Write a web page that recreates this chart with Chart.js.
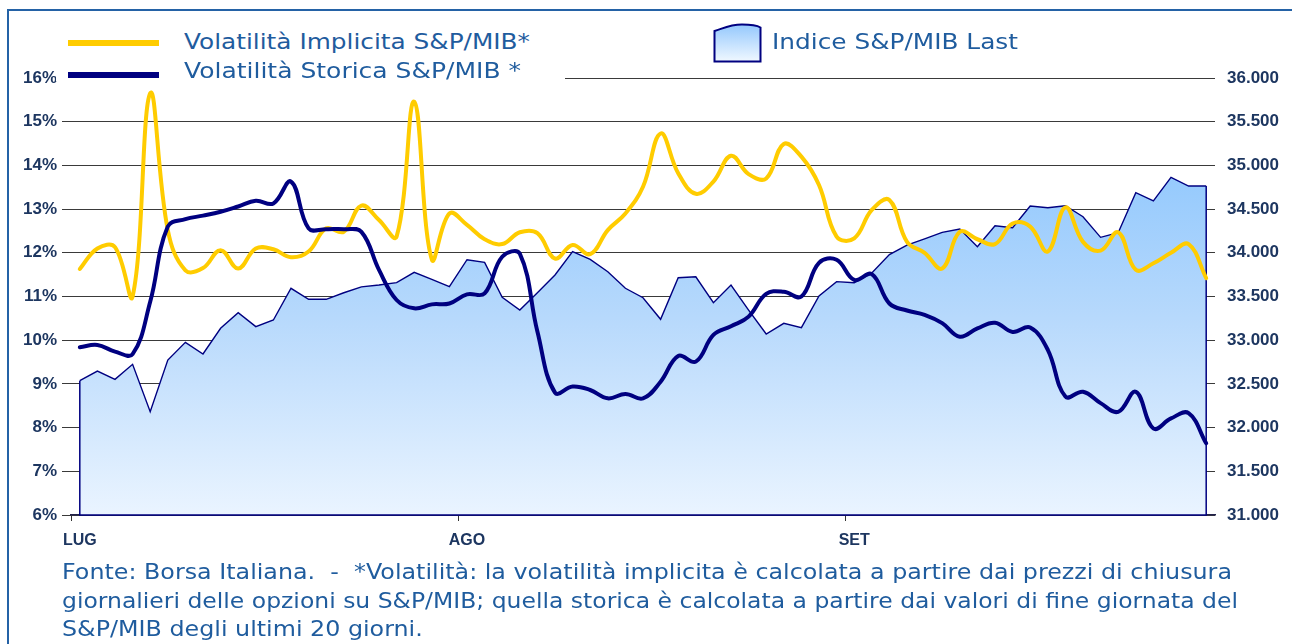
<!DOCTYPE html>
<html>
<head>
<meta charset="utf-8">
<script src="https://cdn.jsdelivr.net/npm/chart.js@4.4.0/dist/chart.umd.min.js"></script>
<style>
html,body{margin:0;padding:0;background:#fff;}
#wrap{position:relative;width:1292px;height:644px;overflow:hidden;background:#fff;}
#frame{position:absolute;left:7px;top:9px;width:1400px;height:800px;border-left:2px solid #2462A6;border-top:2px solid #2462A6;}
#chart{position:absolute;left:0;top:0;}
.txt{position:absolute;white-space:nowrap;color:#1F5C9E;font-family:'DejaVu Sans',sans-serif;line-height:1;transform-origin:0 50%;}
.leg{font-size:22px;}
.foot{font-size:22px;}
#legbox{position:absolute;left:56px;top:22px;width:509px;height:59px;background:#fff;}
.sw{position:absolute;height:6px;}
</style>
</head>
<body>
<div id="wrap">
  <canvas id="chart" width="1292" height="644"></canvas>
  <div id="frame"></div>
  <div id="legbox"></div>
  <div class="sw" style="left:68px;top:40px;width:91px;background:#FFCC00;"></div>
  <div class="sw" style="left:68px;top:72px;width:91px;background:#000080;"></div>
  <div class="txt leg" data-w="346" style="left:184px;top:31px;">Volatilità Implicita S&amp;P/MIB*</div>
  <div class="txt leg" data-w="337" style="left:184px;top:60px;">Volatilità Storica S&amp;P/MIB *</div>
  <svg style="position:absolute;left:712px;top:22px;" width="52" height="42" viewBox="0 0 52 42">
    <defs><linearGradient id="lg" x1="0" y1="0" x2="0" y2="1"><stop offset="0" stop-color="#94C8FD"/><stop offset="1" stop-color="#F0F8FF"/></linearGradient></defs>
    <path d="M2.5 9 C12 6 18 2.5 30 2.5 C40 2.5 46 4 48.5 5.5 L48.5 39.5 L2.5 39.5 Z" fill="url(#lg)" stroke="#000080" stroke-width="2"/>
  </svg>
  <div class="txt leg" data-w="246" style="left:772px;top:31px;">Indice S&amp;P/MIB Last</div>
  <div class="txt foot" id="foot1" data-w="1170" style="left:62px;top:561px;">Fonte: Borsa Italiana.&nbsp; -&nbsp; *Volatilità: la volatilità implicita è calcolata a partire dai prezzi di chiusura</div>
  <div class="txt foot" data-w="1176" style="left:62px;top:590px;">giornalieri delle opzioni su S&amp;P/MIB; quella storica è calcolata a partire dai valori di fine giornata del</div>
  <div class="txt foot" id="foot3" style="left:62px;top:618px;">S&amp;P/MIB degli ultimi 20 giorni.</div>
</div>
<script>
// ---- data ----
const months = ['LUG', 'AGO', 'SET'];
const tradingDays = [22, 22, 21];
const categories = [];
months.forEach((m, k) => { for (let d = 1; d <= tradingDays[k]; d++) categories.push(m + ' ' + d); });

const volImplicita = [
  11.63, 12.10, 12.13, 11.00, 15.65, 12.52, 11.60, 11.65, 12.06, 11.64,
  12.10, 12.08, 11.90, 12.03, 12.56, 12.48, 13.08, 12.75, 12.37, 15.46,
  11.85, 12.90, 12.64, 12.31, 12.20, 12.47, 12.45, 11.87, 12.18, 11.97,
  12.52, 12.90, 13.51, 14.73, 13.82, 13.35, 13.63, 14.22, 13.80, 13.70,
  14.49, 14.20, 13.55, 12.37, 12.33, 12.98, 13.21, 12.25, 12.00, 11.64,
  12.48, 12.31, 12.20, 12.67, 12.60, 12.03, 13.04, 12.25, 12.05, 12.47,
  11.61, 11.76, 12.00, 12.20, 11.42
];
const volStorica = [
  9.84, 9.89, 9.74, 9.68, 10.88, 12.60, 12.77, 12.85, 12.94, 13.06,
  13.19, 13.13, 13.63, 12.56, 12.54, 12.54, 12.48, 11.61, 10.92, 10.73,
  10.82, 10.84, 11.05, 11.07, 11.91, 11.98, 10.20, 8.80, 8.94, 8.86,
  8.67, 8.77, 8.67, 9.05, 9.64, 9.51, 10.12, 10.32, 10.54, 11.06,
  11.11, 11.00, 11.77, 11.84, 11.38, 11.51, 10.84, 10.68, 10.58, 10.39,
  10.08, 10.27, 10.40, 10.19, 10.29, 9.78, 8.71, 8.82, 8.56, 8.36,
  8.82, 7.98, 8.21, 8.33, 7.64
];
const indiceSPMIB = [
  32537, 32647, 32552, 32724, 32182, 32773, 32976, 32842, 33136, 33315,
  33155, 33231, 33594, 33468, 33468, 33543, 33610, 33631, 33658, 33777,
  33697, 33612, 33921, 33891, 33491, 33345, 33543, 33746, 34013, 33925,
  33784, 33594, 33486, 33239, 33715, 33726, 33429, 33631, 33345, 33071,
  33193, 33143, 33506, 33670, 33658, 33770, 33980, 34089, 34160, 34234,
  34272, 34070, 34310, 34287, 34535, 34516, 34539, 34413, 34177, 34230,
  34688, 34593, 34864, 34764, 34764
];
const pctRange = [6, 16];
const indexRange = [31000, 36000];

// ---- chart ----
const tickFont = { family: "'Liberation Sans', Arial, sans-serif", size: 17, weight: 'bold' };
const tickColor = '#1D3660';
const isMonthStart = i => categories[i] !== undefined && categories[i].endsWith(' 1');

const areaEdges = {
  id: 'areaEdges',
  afterDatasetDraw(chart, args) {
    if (args.index !== 0) return;
    const pts = args.meta.data;
    const ctx = chart.ctx, b = chart.chartArea.bottom;
    const f = pts[0], l = pts[pts.length - 1];
    ctx.save();
    ctx.strokeStyle = '#000080';
    ctx.lineWidth = 1.5;
    ctx.beginPath();
    ctx.moveTo(f.x, f.y); ctx.lineTo(f.x, b); ctx.lineTo(l.x, b); ctx.lineTo(l.x, l.y);
    ctx.stroke();
    ctx.restore();
  }
};

new Chart(document.getElementById('chart'), {
  type: 'line',
  data: {
    labels: categories,
    datasets: [
      {
        label: 'Indice S&P/MIB Last',
        data: indiceSPMIB,
        yAxisID: 'y1',
        fill: 'start',
        borderColor: '#000080',
        borderWidth: 1.4,
        pointRadius: 0,
        tension: 0,
        order: 3,
        backgroundColor: (c) => {
          const ca = c.chart.chartArea;
          if (!ca) return '#C0DDFC';
          const g = c.chart.ctx.createLinearGradient(0, ca.top, 0, ca.bottom);
          g.addColorStop(0, '#86BFFC');
          g.addColorStop(0.25, '#98CBFD');
          g.addColorStop(0.55, '#B7D9FC');
          g.addColorStop(1, '#EAF4FF');
          return g;
        }
      },
      {
        label: 'Volatilità Implicita S&P/MIB*',
        data: volImplicita,
        yAxisID: 'y',
        borderColor: '#FFCC00',
        borderWidth: 4,
        pointRadius: 0,
        tension: 0.4,
        fill: false,
        order: 2,
        borderCapStyle: 'round',
        borderJoinStyle: 'round'
      },
      {
        label: 'Volatilità Storica S&P/MIB *',
        data: volStorica,
        yAxisID: 'y',
        borderColor: '#000080',
        borderWidth: 4,
        pointRadius: 0,
        tension: 0.4,
        fill: false,
        order: 1,
        borderCapStyle: 'round',
        borderJoinStyle: 'round'
      }
    ]
  },
  options: {
    responsive: false,
    devicePixelRatio: 1,
    animation: false,
    layout: { padding: { left: 0, right: 0, top: 78, bottom: 84 } },
    plugins: { legend: { display: false }, tooltip: { enabled: false } },
    scales: {
      x: {
        type: 'category',
        offset: true,
        afterFit: s => { s.height = 45; },
        grid: {
          offset: true,
          drawOnChartArea: false,
          drawTicks: true,
          tickLength: 6,
          color: c => isMonthStart(c.index) ? '#333' : 'rgba(0,0,0,0)'
        },
        border: { display: true, color: '#22224A', width: 1.5 },
        ticks: {
          autoSkip: false, maxRotation: 0, minRotation: 0, padding: 10,
          font: { ...tickFont, size: 16 }, color: tickColor,
          callback: (v, i) => isMonthStart(i) ? categories[i].split(' ')[0] : ''
        }
      },
      y: {
        position: 'left',
        min: pctRange[0], max: pctRange[1],
        afterFit: s => { s.width = 71; },
        grid: { color: '#3A3A3A', lineWidth: 1, tickLength: 9, drawTicks: true },
        border: { display: false },
        ticks: { stepSize: 1, padding: 5, font: tickFont, color: tickColor, callback: v => v + '%' }
      },
      y1: {
        position: 'right',
        min: indexRange[0], max: indexRange[1],
        afterFit: s => { s.width = 77; },
        grid: { drawOnChartArea: false, drawTicks: false },
        border: { display: false },
        ticks: {
          stepSize: 500, padding: 12, font: tickFont, color: tickColor,
          callback: v => Math.floor(v / 1000) + '.' + String(v % 1000).padStart(3, '0')
        }
      }
    }
  },
  plugins: [areaEdges]
});

// fit text runs to the reference widths
document.querySelectorAll('[data-w]').forEach(el => {
  const w = el.getBoundingClientRect().width;
  el.style.transform = 'scaleX(' + (+el.dataset.w / w) + ')';
});
// last footnote line uses the same horizontal scale as the first one
const f1 = document.getElementById('foot1');
document.getElementById('foot3').style.transform = f1.style.transform;
</script>
</body>
</html>
